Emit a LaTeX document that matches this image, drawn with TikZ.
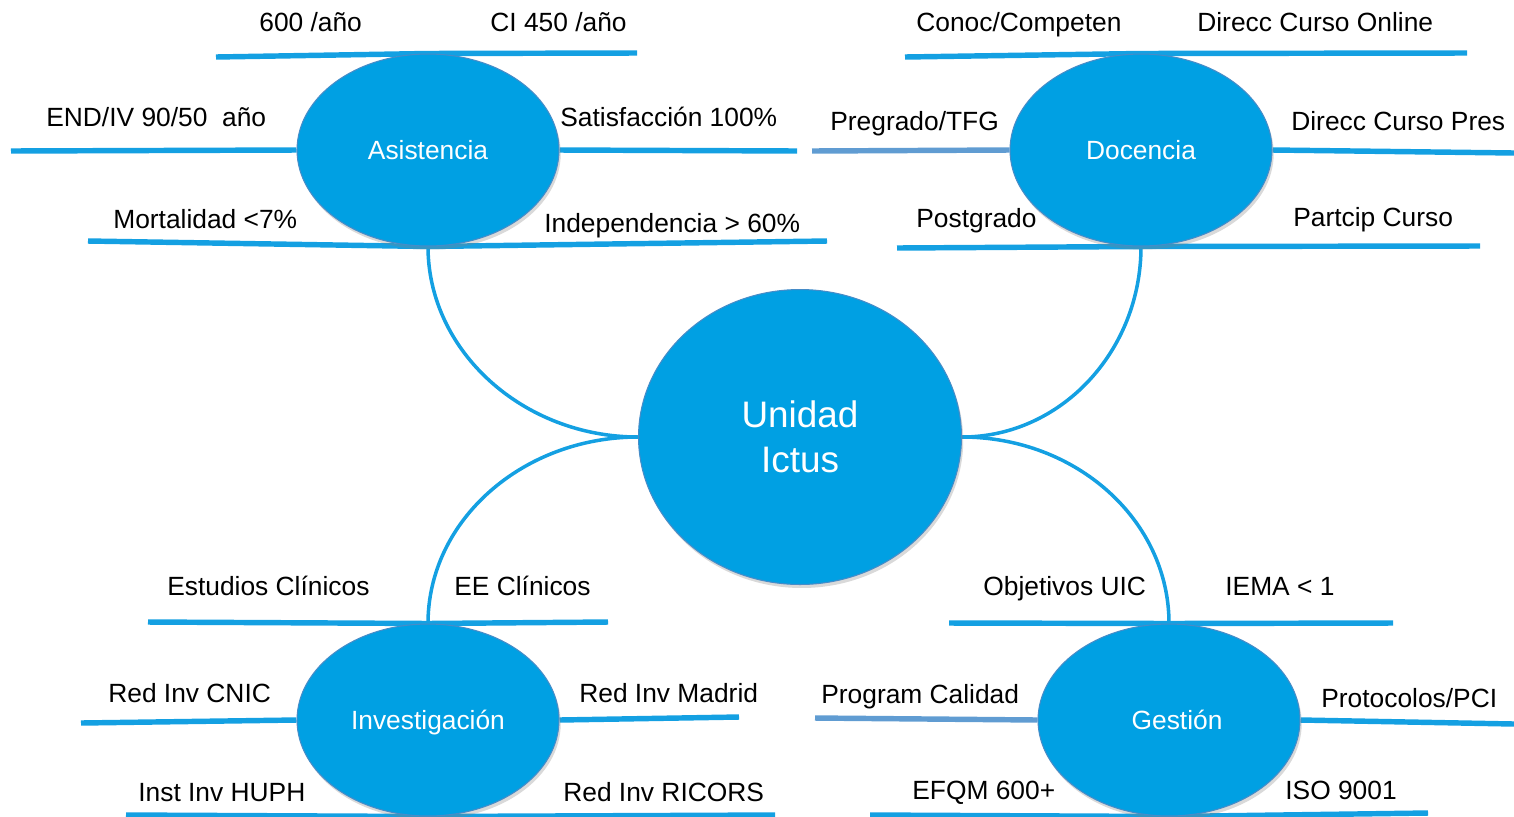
\documentclass[tikz,border=0pt]{standalone}
\usepackage{fontspec}
\setmainfont{Liberation Sans}
\usetikzlibrary{shapes.geometric,shadows,backgrounds}
\definecolor{nodeblue}{RGB}{0,160,227}
\definecolor{nodeedge}{RGB}{70,140,200}
\definecolor{linkblue}{RGB}{20,160,226}
\definecolor{steel}{RGB}{96,156,210}
\begin{document}
\begin{tikzpicture}[x=0.02cm,y=-0.02cm,
  bubble/.style={ellipse, fill=nodeblue, draw=nodeedge, line width=0.6pt, text=white, inner sep=0pt,
    drop shadow={shadow xshift=1pt, shadow yshift=-2pt, opacity=0.3}},
  sub/.style={bubble, minimum width=5.24cm, minimum height=3.84cm, font=\fontsize{15}{18}\selectfont, text depth=0pt},
  lbl/.style={anchor=base west, inner sep=0pt, font=\fontsize{15}{18}\selectfont, text=black},
  branch/.style={draw=linkblue, line width=3.1pt},
  pale/.style={draw=steel, line width=3.1pt},
  link/.style={draw=linkblue, line width=2pt}]
\useasboundingbox (0,0) rectangle (1514,816);

% main bubbles
\node[bubble, minimum width=6.46cm, minimum height=5.9cm, align=center,
      font=\fontsize{21}{25.5}\selectfont] (u) at (800,437) {Unidad\\Ictus};
\node[sub] (a) at (428,150) {Asistencia};
\node[sub] (d) at (1141,150) {Docencia};
\node[sub] (i) at (428,720) {Investigación};
\node[sub] (g) at (1169,720) {\hspace*{0.32cm}Gestión};

% free ends of branches
\coordinate (a1) at (216,57);  \coordinate (a2) at (637,53);
\coordinate (a3) at (11,151);  \coordinate (a4) at (797,151);
\coordinate (a5) at (88,241);  \coordinate (a6) at (827,241);
\coordinate (d1) at (905,57);  \coordinate (d2) at (1467,53);
\coordinate (d3) at (812,151); \coordinate (d4) at (1514,153);
\coordinate (d5) at (897,248); \coordinate (d6) at (1480,246);
\coordinate (i1) at (148,622); \coordinate (i2) at (608,622);
\coordinate (i3) at (81,723);  \coordinate (i4) at (739,717);
\coordinate (i5) at (126,815); \coordinate (i6) at (775,815);
\coordinate (g1) at (949,623); \coordinate (g2) at (1393,623);
\coordinate (g3) at (815,718); \coordinate (g4) at (1514,724);
\coordinate (g5) at (870,815); \coordinate (g6) at (1428,813);

\begin{scope}[on background layer]
\draw[branch] (a1) -- (a.north) -- (a2);
\draw[branch] (a3) -- (a.west);
\draw[branch] (a.east) -- (a4);
\draw[branch] (a5) -- (a.south) -- (a6);
\draw[branch] (d1) -- (d.north) -- (d2);
\draw[pale]   (d3) -- (d.west);
\draw[branch] (d.east) -- (d4);
\draw[branch] (d5) -- (d.south) -- (d6);
\draw[branch] (i1) -- (i.north) -- (i2);
\draw[branch] (i3) -- (i.west);
\draw[branch] (i.east) -- (i4);
\draw[branch] (i5) -- (i.south) -- (i6);
\draw[branch] (g1) -- (g.north) -- (g2);
\draw[pale]   (g3) -- (g.west);
\draw[branch] (g.east) -- (g4);
\draw[branch] (g5) -- (g.south) -- (g6);
\draw[link] (a.south) .. controls (428,351) and (523,437) .. (u.west);
\draw[link] (u.west) .. controls (523,437) and (428,520) .. (i.north);
\draw[link] (d.south) .. controls (1141,351) and (1061,437) .. (u.east);
\draw[link] (u.east) .. controls (1076,437) and (1169,520) .. (g.north);
\end{scope}

% labels
\node[lbl] (la1) at (259,31.5)  {600 /año};
\node[lbl] (la2) at (490,31.5)  {CI 450 /año};
\node[lbl] (la3) at (46,126.5)  {END/IV 90/50\ \ año};
\node[lbl] (la4) at (560,126.5) {Satisfacción 100\%};
\node[lbl] (la5) at (113,228.5) {Mortalidad <7\%};
\node[lbl] (la6) at (544,232.5) {Independencia > 60\%};

\node[lbl] (ld1) at (916,31.5)   {Conoc/Competen};
\node[lbl] (ld2) at (1197,31.5)  {Direcc Curso Online};
\node[lbl] (ld3) at (830,130.5)  {Pregrado/TFG};
\node[lbl] (ld4) at (1291,130.5) {Direcc Curso Pres};
\node[lbl] (ld5) at (916,227.5)  {Postgrado};
\node[lbl] (ld6) at (1293,226.5) {Partcip Curso};

\node[lbl] (li1) at (167,595.5) {Estudios Clínicos};
\node[lbl] (li2) at (454,595.5) {EE Clínicos};
\node[lbl] (li3) at (108,702.5) {Red Inv CNIC};
\node[lbl] (li4) at (579,702.5) {Red Inv Madrid};
\node[lbl] (li5) at (138,801.5) {Inst Inv HUPH};
\node[lbl] (li6) at (563,801.5) {Red Inv RICORS};

\node[lbl] (lg1) at (983,595.5)  {Objetivos UIC};
\node[lbl] (lg2) at (1225,595.5) {IEMA < 1};
\node[lbl] (lg3) at (821,703.5)  {Program Calidad};
\node[lbl] (lg4) at (1321,707.5) {Protocolos/PCI};
\node[lbl] (lg5) at (912,799.5)  {EFQM 600+};
\node[lbl] (lg6) at (1285,799.5) {ISO 9001};
\end{tikzpicture}
\end{document}
